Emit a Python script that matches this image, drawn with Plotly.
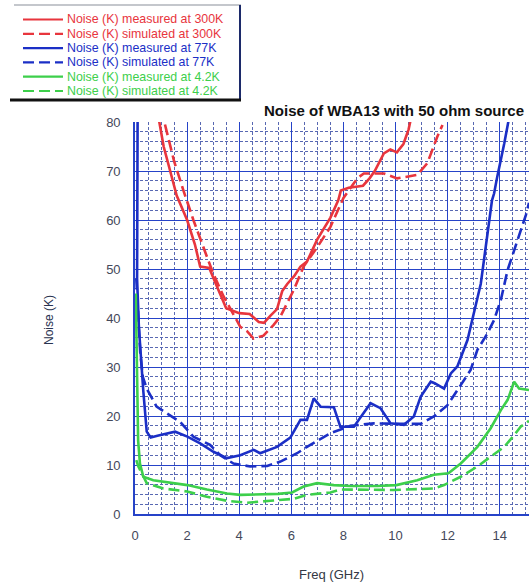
import plotly.graph_objects as go

# ---- measured / simulated noise temperature vs frequency ----
red_meas_x = [0.9, 1.1, 1.35, 1.6, 2.0, 2.3, 2.5, 2.85, 3.1, 3.5, 4.0, 4.4, 4.75, 4.95, 5.2, 5.45,
              5.65, 5.85, 6.1, 6.35, 6.6, 6.99, 7.5, 7.8, 7.9, 8.2, 8.75, 9.0, 9.2, 9.55, 9.8, 10.05,
              10.3, 10.5, 10.6]
red_meas_y = [81, 75, 70, 65, 60, 55, 50.5, 50.2, 47, 42, 41, 40.8, 39.2, 39, 40.5, 41.8,
              45.5, 47, 48.5, 50.5, 51.5, 56, 60.5, 64, 66, 66.6, 67, 68.5, 70, 73.6, 74.4, 73.8,
              75.5, 78.5, 81]

red_sim_x = [1.15, 1.22, 1.5, 1.86, 2.24, 2.76, 3.0, 3.4, 4.04, 4.3, 4.55, 4.93, 5.32, 5.58, 6.09,
             6.47, 7.0, 7.5, 8.0, 8.53, 8.78, 9.55, 10.06, 10.83, 11.22, 11.6, 11.8]
red_sim_y = [79.5, 78, 72, 66, 60, 52.5, 49.1, 44.4, 38.2, 37.3, 35.8, 36.4, 38.6, 40.3, 45.7,
             50.5, 54.5, 58.6, 64.5, 68.5, 69.5, 69.5, 68.5, 69.2, 71.6, 77, 79.4]

blue_meas_x = [0.1, 0.1, 0.08, 0.15, 0.25, 0.32, 0.45, 0.6, 0.9, 1.54, 2.01, 2.5, 3.01, 3.53, 4.04,
               4.55, 4.8, 5.45, 5.96, 6.35, 6.6, 6.86, 7.12, 7.63, 7.88, 8.4, 9.04, 9.42, 9.81,
               10.32, 10.7, 10.96, 11.35, 11.5, 11.86, 12.12, 12.37, 12.76, 12.88, 13.27, 13.53,
               13.7, 13.78, 13.9, 14.17, 14.36]
blue_meas_y = [81, 60, 48, 38, 30, 25, 16.8, 15.6, 16, 16.8, 15.8, 14.4, 12.7, 11.4, 12.0,
               13.1, 12.4, 13.7, 15.6, 19.2, 19.2, 23.6, 21.9, 21.8, 17.8, 17.8, 22.6, 21.6, 18.5,
               18.2, 19.9, 23.9, 27, 26.7, 25.6, 28.7, 30.1, 35.5, 38.2, 47, 57.3,
               64, 65.4, 68.8, 75.6, 81]

blue_sim_x = [0.05, 0.12, 0.2, 0.3, 0.45, 0.83, 1.22, 1.73, 2.24, 2.88, 3.27, 3.78, 4.42, 5.07,
              5.58, 6.22, 6.6, 7.5, 8.27, 9.17, 10.2, 10.96, 11.47, 11.99, 12.5, 12.88, 13.14,
              13.53, 13.78, 14.04, 14.3, 14.68, 15.0, 15.12]
blue_sim_y = [48, 40, 33, 28, 25.6, 21.9, 20.5, 18.8, 15.8, 14.1, 12, 10.3, 9.7, 9.8,
              10.7, 12.4, 13.7, 16.5, 18, 18.5, 18.4, 18.4, 19.9, 22.2, 26.3, 29.4, 33.5,
              36.9, 39.6, 43.7, 49.8, 55.9, 61, 63.5]

green_meas_x = [0.03, 0.08, 0.12, 0.19, 0.32, 0.7, 1.47, 2.01, 2.76, 3.53, 4.04, 4.8, 5.5, 6.03,
                6.47, 6.99, 7.63, 8.27, 9.3, 10.03, 10.83, 11.47, 12.03, 12.5, 13.14, 13.65,
                14.04, 14.3, 14.55, 14.74, 15.0, 15.12]
green_meas_y = [45, 30, 15, 10.3, 7.6, 6.9, 6.4, 5.9, 5.0, 4.2, 3.9, 4.0, 4.1, 4.4,
                5.6, 6.3, 5.9, 5.7, 5.7, 5.9, 6.9, 8.0, 8.3, 10.3, 13.7, 17.5,
                21.2, 23.3, 27, 25.6, 25.3, 25.3]

green_sim_x = [0.05, 0.13, 0.45, 1.09, 2.0, 2.76, 3.53, 4.3, 5.2, 6.09, 6.6, 7.5, 7.88, 8.9, 9.94,
               11.47, 11.86, 12.5, 13.14, 13.65, 14.17, 14.55, 14.8, 15.12]
green_sim_y = [11, 9.7, 6.3, 5.2, 4.6, 3.5, 2.7, 2.3, 2.7, 3.1, 3.9, 4.4, 5.0, 5.0, 4.9,
               5.2, 5.9, 7.6, 9.7, 11.7, 13.7, 16.1, 17.8, 19]

x_ticks = [0, 2, 4, 6, 8, 10, 12, 14]
y_ticks = [0, 10, 20, 30, 40, 50, 60, 70, 80]

RED, BLUE, GREEN = "#e8353d", "#1b2fc6", "#3dcf4b"
DASH = "11px,5px"
FONT = "Liberation Sans, Arial, sans-serif"

series = [
    ("Noise (K) measured at 300K", red_meas_x, red_meas_y, RED, "solid"),
    ("Noise (K) simulated at 300K", red_sim_x, red_sim_y, RED, DASH),
    ("Noise (K) measured at 77K", blue_meas_x, blue_meas_y, BLUE, "solid"),
    ("Noise (K) simulated at 77K", blue_sim_x, blue_sim_y, BLUE, DASH),
    ("Noise (K) measured at 4.2K", green_meas_x, green_meas_y, GREEN, "solid"),
    ("Noise (K) simulated at 4.2K", green_sim_x, green_sim_y, GREEN, DASH),
]

W, H = 529, 583
L, R, T, B = 135, 0, 122, 69
PW, PH = W - L - R, H - T - B


def px(xp):
    return (xp - L) / PW


def py(yp):
    return (H - B - yp) / PH


fig = go.Figure()
for name, xs, ys, col, dash in series:
    fig.add_trace(go.Scatter(x=xs, y=ys, mode="lines", name=name,
                             line=dict(color=col, width=2.6, dash=dash),
                             showlegend=False))

# legend block in the upper-left corner
shapes = []
annotations = []
row0, step = 19.5, 14.3
for i, (name, _, _, col, dash) in enumerate(series):
    yc = py(row0 + i * step)
    shapes.append(dict(type="line", xref="paper", yref="paper",
                       x0=px(23), x1=px(63), y0=yc, y1=yc,
                       line=dict(color=col, width=2.2, dash=dash)))
    annotations.append(dict(text=name, xref="paper", yref="paper", x=px(65), y=yc,
                            xanchor="left", yanchor="middle", showarrow=False,
                            font=dict(family=FONT, size=12.4, color=col)))
shapes += [
    dict(type="line", xref="paper", yref="paper", x0=px(14), x1=px(241), y0=py(5), y1=py(5),
         line=dict(color="#8a8f9a", width=1.2)),
    dict(type="line", xref="paper", yref="paper", x0=px(240), x1=px(240), y0=py(5), y1=py(100),
         line=dict(color="#1c2a6a", width=2)),
    dict(type="line", xref="paper", yref="paper", x0=px(10), x1=px(241), y0=py(100), y1=py(100),
         line=dict(color="#111111", width=3)),
]

annotations += [
    dict(text="<b>Noise of WBA13 with 50 ohm source</b>", xref="paper", yref="paper",
         x=px(526), y=py(110), xanchor="right", yanchor="middle", showarrow=False,
         font=dict(family=FONT, size=15, color="#111111")),
    dict(text="Freq (GHz)", xref="paper", yref="paper", x=px(331), y=py(574),
         xanchor="center", yanchor="middle", showarrow=False,
         font=dict(family=FONT, size=13, color="#333844")),
    dict(text="Noise (K)", xref="paper", yref="paper", x=px(49), y=py(320),
         xanchor="center", yanchor="middle", showarrow=False, textangle=-90,
         font=dict(family=FONT, size=12, color="#2a3350")),
]

GRID = "#2643c8"
MINOR = "#5868b2"
MINOR_DASH = "3px,2px"

fig.update_layout(
    width=W, height=H,
    margin=dict(l=L, r=R, t=T, b=B),
    paper_bgcolor="white", plot_bgcolor="white",
    shapes=shapes, annotations=annotations,
    showlegend=False,
    xaxis=dict(range=[0, 15.12], tickvals=x_ticks, ticktext=[str(v) for v in x_ticks],
               showgrid=True, gridcolor=GRID, gridwidth=1.4,
               showline=True, linecolor=GRID, linewidth=1.6,
               zeroline=False, ticks="", ticklabelstandoff=9,
               tickfont=dict(family=FONT, size=13, color="#44485a"),
               minor=dict(dtick=0.5, tick0=0, showgrid=True, gridcolor=MINOR,
                          griddash=MINOR_DASH, gridwidth=1)),
    yaxis=dict(range=[0, 80], tickvals=y_ticks, ticktext=[str(v) for v in y_ticks],
               showgrid=True, gridcolor=GRID, gridwidth=1.4,
               showline=True, linecolor=GRID, linewidth=1.6,
               zeroline=False, ticks="", ticklabelstandoff=10,
               tickfont=dict(family=FONT, size=13, color="#44485a"),
               minor=dict(dtick=2, tick0=0, showgrid=True, gridcolor=MINOR,
                          griddash=MINOR_DASH, gridwidth=1)),
)

fig.write_html("out.html")
